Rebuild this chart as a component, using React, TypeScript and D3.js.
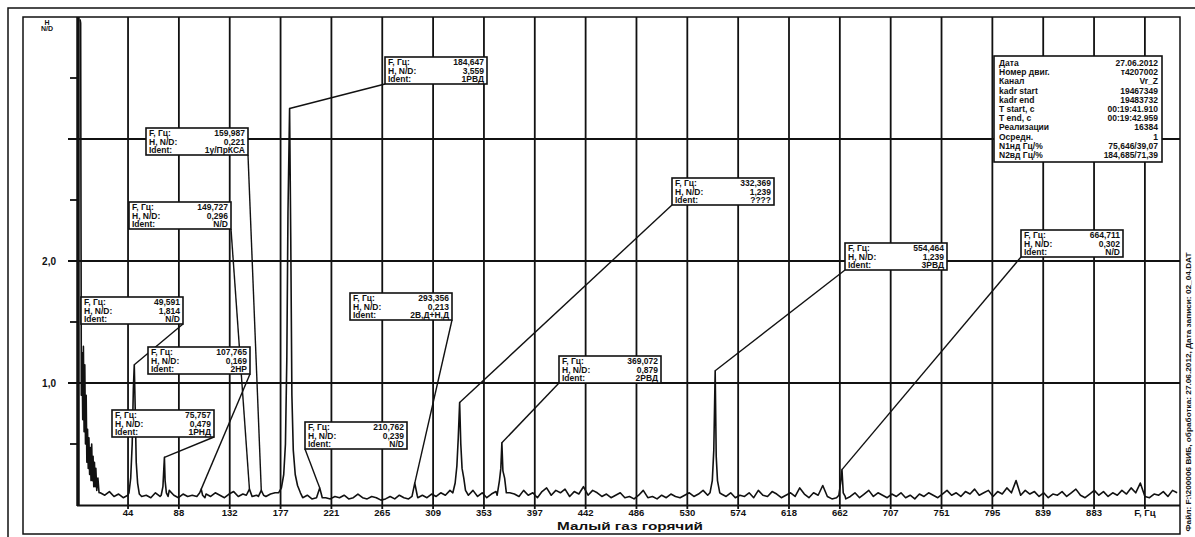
import React from "react";
import * as d3 from "d3";

const W = 1195;
const H = 537;

// x grid / tick positions in Hz, and the labels as printed under them
const tickFreqs = [
  44.19, 88.38, 132.57, 176.76, 220.95, 265.14, 309.33, 353.52, 397.71, 441.9,
  486.09, 530.28, 574.47, 618.66, 662.85, 707.04, 751.23, 795.42, 839.61, 883.8,
  927.99,
];
const tickLabels = [
  "44", "88", "132", "177", "221", "265", "309", "353", "397", "442", "486",
  "530", "574", "618", "662", "707", "751", "795", "839", "883", "F, Гц",
];

// y axis
const yMinorTicks = [0.5, 1, 1.5, 2, 2.5, 3, 3.5];
const yGrid = [1, 2, 3];
const yLabelValues = [1, 2];
const yLabelText = ["1,0", "2,0"];

// spectrum: low frequency part (Hz, N/D)
const lowFreq: [number, number][] = [
  [2.5, 3.98], [3, 3.95], [3.6, 0.9], [4.2, 1.25], [4.8, 0.7], [5.4, 1.3],
  [6, 0.6], [6.6, 1.15], [7.2, 0.5], [7.8, 0.9], [8.4, 0.35], [9, 0.62],
  [9.6, 0.3], [10.2, 0.55], [10.8, 0.25], [11.4, 0.47], [12, 0.2], [12.6, 0.5],
  [13.2, 0.2], [13.8, 0.4], [14.4, 0.15], [15, 0.35], [15.6, 0.15], [16.2, 0.3],
  [17, 0.12], [18, 0.22], [19, 0.1],
];

// noise floor read every 4 Hz from 20 Hz
const noiseStart = 20;
const noiseStep = 4;
const noise = [
  0.10, 0.08, 0.11, 0.07, 0.09, 0.06, 0.08, 0.1, 0.09, 0.07,
  0.08, 0.06, 0.1, 0.07, 0.09, 0.12, 0.08, 0.06, 0.09, 0.07,
  0.08, 0.1, 0.06, 0.09, 0.07, 0.1, 0.08, 0.06, 0.09, 0.11,
  0.07, 0.09, 0.06, 0.1, 0.08, 0.12, 0.07, 0.09, 0.1, 0.08,
  0.1, 0.12, 0.09, 0.07, 0.06, 0.08, 0.05, 0.07, 0.09, 0.06,
  0.05, 0.07, 0.06, 0.08, 0.05, 0.06, 0.09, 0.06, 0.05, 0.07,
  0.06, 0.04, 0.05, 0.07, 0.05, 0.08, 0.06, 0.05, 0.07, 0.06,
  0.08, 0.06, 0.09, 0.07, 0.1, 0.08, 0.12, 0.09, 0.1, 0.11,
  0.08, 0.12, 0.07, 0.1, 0.06, 0.09, 0.11, 0.08, 0.13, 0.1,
  0.09, 0.07, 0.12, 0.08, 0.1, 0.06, 0.11, 0.14, 0.08, 0.12,
  0.1, 0.13, 0.07, 0.11, 0.09, 0.15, 0.08, 0.12, 0.1, 0.07,
  0.09, 0.06, 0.08, 0.1, 0.06, 0.07, 0.05, 0.08, 0.12, 0.06,
  0.07, 0.05, 0.08, 0.06, 0.09, 0.07, 0.06, 0.08, 0.1, 0.07,
  0.09, 0.12, 0.08, 0.1, 0.06, 0.09, 0.07, 0.1, 0.06, 0.08,
  0.07, 0.1, 0.06, 0.12, 0.08, 0.07, 0.11, 0.09, 0.06, 0.08,
  0.1, 0.07, 0.14, 0.09, 0.06, 0.1, 0.08, 0.16, 0.07, 0.05,
  0.06, 0.08, 0.05, 0.07, 0.1, 0.06, 0.09, 0.12, 0.07, 0.1,
  0.08, 0.06, 0.09, 0.07, 0.1, 0.06, 0.08, 0.05, 0.09, 0.07,
  0.1, 0.08, 0.06, 0.09, 0.12, 0.08, 0.1, 0.07, 0.11, 0.09,
  0.13, 0.08, 0.1, 0.12, 0.07, 0.11, 0.09, 0.14, 0.1, 0.2,
  0.08, 0.12, 0.09, 0.11, 0.07, 0.1, 0.06, 0.09, 0.08, 0.11,
  0.07, 0.1, 0.13, 0.08, 0.06, 0.09, 0.12, 0.08, 0.11, 0.07,
  0.1, 0.08, 0.12, 0.09, 0.14, 0.1, 0.18, 0.07, 0.06, 0.09,
  0.08, 0.11, 0.07, 0.12, 0.1,
];

// marked peaks (Hz, N/D as drawn)
const peaks: [number, number][][] = [
  [[45, 0.1], [46.5, 0.22], [47.8, 0.5], [48.8, 0.95], [49.6, 1.15], [50.4, 0.8], [51.3, 0.35], [52.5, 0.18], [54, 0.09]],
  [[73, 0.08], [74.5, 0.15], [75.3, 0.3], [75.8, 0.39], [76.4, 0.2], [77.5, 0.1], [79, 0.07]],
  [[104, 0.07], [106.5, 0.1], [107.8, 0.13], [109, 0.08], [111, 0.06]],
  [[147, 0.08], [149.7, 0.13], [152, 0.07]],
  [[157.5, 0.07], [160, 0.12], [162, 0.08]],
  [[175, 0.1], [177.5, 0.14], [179.5, 0.25], [181, 0.5], [182.2, 1.2], [183.2, 2.4], [184.6, 3.25], [185.6, 2.2], [186.6, 0.9], [187.8, 0.45], [189.5, 0.25], [191.5, 0.16], [194, 0.1]],
  [[208, 0.06], [210.8, 0.14], [213, 0.06]],
  [[291, 0.07], [293.4, 0.18], [295.5, 0.08]],
  [[326.5, 0.1], [328.5, 0.18], [330, 0.32], [331.2, 0.55], [332.4, 0.84], [333.4, 0.5], [334.5, 0.3], [336, 0.22], [337.5, 0.12]],
  [[365, 0.08], [367, 0.2], [368.2, 0.3], [369.1, 0.51], [370, 0.28], [371.5, 0.22], [373, 0.1]],
  [[550, 0.1], [552, 0.2], [553.3, 0.45], [554.5, 1.1], [555.4, 0.4], [556.5, 0.2], [558.5, 0.1]],
  [[662, 0.08], [663.5, 0.18], [664.7, 0.29], [665.8, 0.1], [667.5, 0.07]],
];

// annotation boxes, in order of the peaks above
const annFreq = ["49,591", "75,757", "107,765", "149,727", "159,987", "184,647", "210,762", "293,356", "332,369", "369,072", "554,464", "664,711"];
const annAmp = ["1,814", "0,479", "0,169", "0,296", "0,221", "3,559", "0,239", "0,213", "1,239", "0,879", "1,239", "0,302"];
const annIdent = ["N/D", "1РНД", "2НР", "N/D", "1у/ПрКСА", "1РВД", "N/D", "2В,Д+Н,Д", "????", "2РВД", "3РВД", "N/D"];
const annRowLabels = ["F, Гц:", "H, N/D:", "Ident:"];

// info panel
const infoKeys = ["Дата", "Номер двиг.", "Канал", "kadr start", "kadr end", "T start, c", "T end, c", "Реализации", "Осредн.", "N1нд Гц/%", "N2вд Гц/%"];
const infoVals = ["27.06.2012", "т4207002", "Vr_Z", "19467349", "19483732", "00:19:41.910", "00:19:42.959", "16384", "1", "75,646/39,07", "184,685/71,39"];

const fileNote = "Файл: F:\\200006 ВИБ, обработка: 27.06.2012, Дата записи: 02_04.DAT";

// box layout: left, top, and which bottom corner the leader leaves from
const boxLayout: [number, number, "l" | "r"][] = [
  [81, 297, "r"], [112, 410, "r"], [148, 347, "r"], [129, 202, "r"],
  [146, 128, "r"], [385, 57, "l"], [305, 422, "l"], [350, 293, "r"],
  [672, 178, "l"], [559, 356, "l"], [845, 243, "l"], [1021, 230, "l"],
];
const BOX_W = 102;
const BOX_H = 27;

const FONT = "'Liberation Sans', Arial, sans-serif";

export default function App() {
  const x = d3.scaleLinear().domain([0, 958.5]).range([77.2, 1180]);
  const y = d3.scaleLinear().domain([0, 4]).range([505, 17]);

  const ranges = peaks.map((p) => [p[0][0], p[p.length - 1][0]]);
  const noisePts: [number, number][] = noise
    .map((v, i) => [noiseStart + i * noiseStep, v] as [number, number])
    .filter(([f]) => !ranges.some(([a, b]) => f >= a && f <= b));
  const spectrum = [...lowFreq, ...noisePts, ...peaks.flat()].sort((a, b) => a[0] - b[0]);

  const line = d3
    .line<[number, number]>()
    .x((d) => x(d[0]))
    .y((d) => y(d[1]));

  const peakTops = peaks.map((p) => p.reduce((m, d) => (d[1] > m[1] ? d : m), p[0]));

  return (
    <svg
      width={W}
      height={H}
      style={{ position: "absolute", left: 0, top: 0, background: "#fff" }}
      fontFamily={FONT}
      fontWeight="bold"
    >
      {/* frames */}
      <g fill="none" stroke="#111">
        <path d="M8,537 V8 H1195" strokeWidth={1.5} />
        <rect x={23} y={17} width={1157} height={517} strokeWidth={1.5} />
      </g>

      {/* vertical grid */}
      <g stroke="#111" strokeWidth={1.8}>
        {tickFreqs.map((f, i) => (
          <line key={i} x1={x(f)} x2={x(f)} y1={17} y2={509} />
        ))}
      </g>
      {/* horizontal grid and y ticks */}
      <g stroke="#111" strokeWidth={1.8}>
        {yGrid.map((v) => (
          <line key={v} x1={68} x2={1180} y1={y(v)} y2={y(v)} />
        ))}
        {yMinorTicks.map((v) => (
          <line key={"t" + v} x1={70} x2={77} y1={y(v)} y2={y(v)} />
        ))}
      </g>
      {/* axes */}
      <line x1={78} x2={78} y1={17} y2={506} stroke="#111" strokeWidth={3.5} />
      <line x1={77} x2={1180} y1={505.5} y2={505.5} stroke="#111" strokeWidth={2.2} />

      {/* tick labels */}
      <g fontSize={9.5} fill="#111" textAnchor="middle">
        {tickFreqs.map((f, i) => (
          <text key={i} x={x(f)} y={516}>
            {tickLabels[i]}
          </text>
        ))}
      </g>
      <g fontSize={10} fill="#111" textAnchor="end">
        {yLabelValues.map((v, i) => (
          <text key={v} x={56} y={y(v) + 4}>
            {yLabelText[i]}
          </text>
        ))}
      </g>
      <text x={47} y={25} fontSize={7} textAnchor="middle" fill="#111">H</text>
      <text x={47} y={31} fontSize={7} textAnchor="middle" fill="#111">N/D</text>

      <text
        x={630}
        y={529.5}
        fontSize={11}
        textAnchor="middle"
        fill="#111"
        textLength={146}
        lengthAdjust="spacingAndGlyphs"
      >
        Малый газ горячий
      </text>

      {/* spectrum */}
      <path d={line(spectrum) || ""} fill="none" stroke="#111" strokeWidth={1.6} strokeLinejoin="round" />

      {/* leaders */}
      <g stroke="#111" strokeWidth={1.4} fill="none">
        {boxLayout.map(([bx, by, side], i) => (
          <line
            key={i}
            x1={side === "r" ? bx + BOX_W : bx}
            y1={by + BOX_H}
            x2={x(peakTops[i][0])}
            y2={y(peakTops[i][1])}
          />
        ))}
      </g>

      {/* annotation boxes */}
      {boxLayout.map(([bx, by], i) => (
        <g key={i} transform={`translate(${bx},${by})`}>
          <rect width={BOX_W} height={BOX_H} fill="#fff" stroke="#111" strokeWidth={1.6} />
          {annRowLabels.map((lab, r) => (
            <text key={r} x={3} y={8.2 + r * 8.5} fontSize={8.5} fill="#111">
              {lab}
            </text>
          ))}
          {[annFreq[i], annAmp[i], annIdent[i]].map((val, r) => (
            <text key={r} x={BOX_W - 3} y={8.2 + r * 8.5} fontSize={8.5} fill="#111" textAnchor="end">
              {val}
            </text>
          ))}
        </g>
      ))}

      {/* info panel */}
      <g transform="translate(994,56)">
        <rect width={168} height={106} fill="#fff" stroke="#111" strokeWidth={1.6} />
        {infoKeys.map((k, i) => (
          <g key={i} fontSize={8.5} fill="#111">
            <text x={5} y={10 + i * 9.2}>{k}</text>
            <text x={164} y={10 + i * 9.2} textAnchor="end">{infoVals[i]}</text>
          </g>
        ))}
      </g>

      {/* file note on the right edge */}
      <text
        transform="translate(1191,392) rotate(-90)"
        fontSize={8}
        textAnchor="middle"
        fill="#111"
        textLength={279}
        lengthAdjust="spacingAndGlyphs"
      >
        {fileNote}
      </text>
    </svg>
  );
}
